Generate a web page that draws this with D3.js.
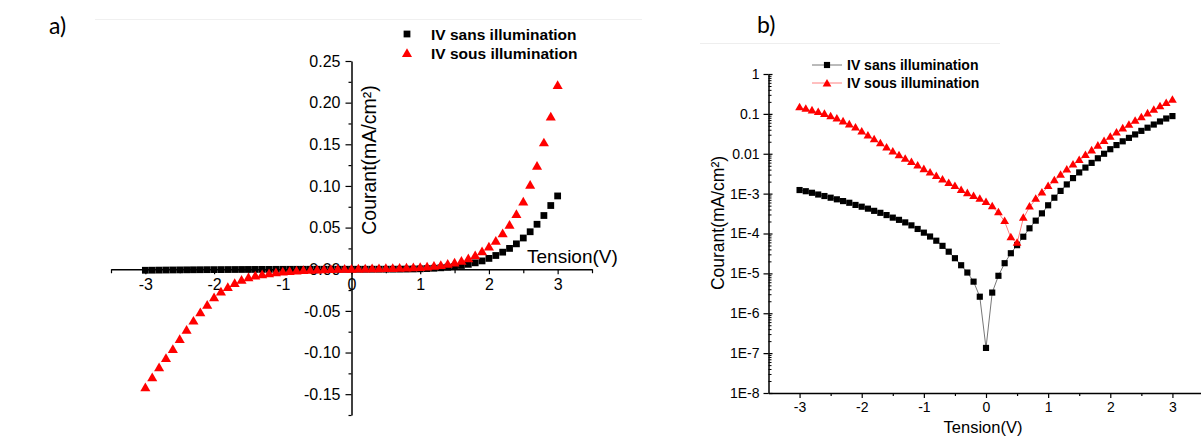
<!DOCTYPE html>
<html><head><meta charset="utf-8">
<script src="https://cdn.jsdelivr.net/npm/d3@7"></script>
<style>
html,body{margin:0;padding:0;background:#fff;}
svg{display:block;font-family:"Liberation Sans",Arial,Helvetica,sans-serif;}
</style>
</head><body>
<svg id="chart" width="1201" height="439"></svg>
<script>
// ---------- DATA ----------
const voltage = [-3.0,-2.9,-2.8,-2.7,-2.6,-2.5,-2.4,-2.3,-2.2,-2.1,-2.0,-1.9,-1.8,-1.7,-1.6,-1.5,-1.4,-1.3,-1.2,-1.1,
  -1.0,-0.9,-0.8,-0.7,-0.6,-0.5,-0.4,-0.3,-0.2,-0.1,0.0,0.1,0.2,0.3,0.4,0.5,0.6,0.7,0.8,0.9,
  1.0,1.1,1.2,1.3,1.4,1.5,1.6,1.7,1.8,1.9,2.0,2.1,2.2,2.3,2.4,2.5,2.6,2.7,2.8,2.9,3.0];

// IV sans illumination (mA/cm²)
const darkCurrent = [-1.23e-3,-1.15e-3,-1.05e-3,-9.5e-4,-8.7e-4,-7.9e-4,-7.2e-4,-6.5e-4,-5.9e-4,-5.2e-4,
  -4.7e-4,-4.2e-4,-3.7e-4,-3.3e-4,-2.9e-4,-2.5e-4,-2.2e-4,-1.9e-4,-1.6e-4,-1.3e-4,
  -1.05e-4,-8.4e-5,-6.6e-5,-4.9e-5,-3.5e-5,-2.4e-5,-1.6e-5,-1.05e-5,-6.2e-6,-2.6e-6,
  1.35e-7,3.3e-6,8.7e-6,1.8e-5,3.2e-5,5.1e-5,8.3e-5,1.35e-4,2.1e-4,3.2e-4,
  5.1e-4,7.9e-4,1.17e-3,1.7e-3,2.45e-3,3.4e-3,4.5e-3,5.9e-3,7.7e-3,1.0e-2,
  1.3e-2,1.65e-2,2.05e-2,2.5e-2,3.05e-2,3.75e-2,4.5e-2,5.4e-2,6.45e-2,7.65e-2,8.8e-2];

// IV sous illumination (mA/cm²)
const lightCurrent = [-0.143,-0.131,-0.119,-0.108,-0.097,-0.085,-0.074,-0.063,-0.053,-0.044,
  -0.035,-0.028,-0.0225,-0.0178,-0.014,-0.011,-0.0089,-0.0073,-0.0060,-0.0049,
  -0.0040,-0.0033,-0.0027,-0.0022,-0.0018,-0.0015,-0.0012,-0.0010,-0.00085,-0.00072,
  -0.00060,-0.00047,-0.00033,-0.00020,-0.000078,0.000057,0.00024,0.00046,0.00072,0.00104,
  0.0015,0.0021,0.0029,0.0039,0.0052,0.0068,0.0090,0.0118,0.0155,0.0203,
  0.026,0.033,0.042,0.052,0.065,0.080,0.100,0.123,0.151,0.182,0.220];

const seriesNames = ["IV sans illumination", "IV sous illumination"];
const panelLabels = ["a)", "b)"];
const xTitle = "Tension(V)";
const yTitle = "Courant(mA/cm²)";
const xTickValues = [-3,-2,-1,0,1,2,3];
const xMinorValues = [-3.5,-2.5,-1.5,-0.5,0.5,1.5,2.5,3.5];
const linTickValues = [-0.15,-0.10,-0.05,0.00,0.05,0.10,0.15,0.20,0.25];
const linTickLabels = ["-0.15","-0.10","-0.05","0.00","0.05","0.10","0.15","0.20","0.25"];
const linMinorValues = [-0.175,-0.125,-0.075,-0.025,0.025,0.075,0.125,0.175,0.225];
const logTickValues = [1,0.1,0.01,1e-3,1e-4,1e-5,1e-6,1e-7,1e-8];
const logTickLabels = ["1","0.1","0.01","1E-3","1E-4","1E-5","1E-6","1E-7","1E-8"];

// ---------- DRAW ----------
const svg = d3.select("#chart");
const BLACK = "#000", RED = "#ff0000";
const pts = voltage.map((v,i)=>({v, d: darkCurrent[i], l: lightCurrent[i]}));

// faint page decorations
svg.append("line").attr("x1",95).attr("x2",642).attr("y1",19.5).attr("y2",19.5).attr("stroke","#f0f0f0");
svg.append("line").attr("x1",700).attr("x2",1000).attr("y1",43.5).attr("y2",43.5).attr("stroke","#eeeeee");

// panel labels
svg.append("text").attr("x",49).attr("y",34).text(panelLabels[0])
  .style("font-family","Lato, 'Open Sans', sans-serif").style("font-size","23px").attr("fill","#000");
svg.append("text").attr("x",757).attr("y",33).text(panelLabels[1])
  .style("font-family","Lato, 'Open Sans', sans-serif").style("font-size","23px").attr("fill","#000");

function styleAxis(g, fs){
  g.select(".domain").attr("stroke","#000").attr("stroke-width",1.5);
  g.selectAll(".tick line").attr("stroke","#000").attr("stroke-width",1.2);
  g.selectAll(".tick text").attr("fill","#000").style("font-size",fs).style("font-family","'Liberation Sans',Arial,sans-serif");
}

// ===== Panel a (linear) =====
const xL = d3.scaleLinear([-3.5,3.5],[111,592]);
const yL = d3.scaleLinear([-0.175,0.25],[415,61]);
const gA = svg.append("g");

const xAxA = gA.append("g").attr("transform",`translate(0,${yL(0)})`)
  .call(d3.axisBottom(xL).tickValues(xTickValues).tickFormat(d=>d).tickSize(5).tickSizeOuter(0).tickPadding(4));
styleAxis(xAxA,"16px");
const xMinA = gA.append("g").attr("transform",`translate(0,${yL(0)})`)
  .call(d3.axisBottom(xL).tickValues(xMinorValues).tickFormat("").tickSize(4).tickSizeOuter(0));
xMinA.select(".domain").remove();
xMinA.selectAll(".tick line").attr("stroke","#000").attr("stroke-width",1.2);

const yAxA = gA.append("g").attr("transform",`translate(${xL(0)},0)`)
  .call(d3.axisLeft(yL).tickValues(linTickValues).tickFormat((d,i)=>linTickLabels[i]).tickSize(6).tickSizeOuter(0).tickPadding(5));
styleAxis(yAxA,"16px");
const yMinA = gA.append("g").attr("transform",`translate(${xL(0)},0)`)
  .call(d3.axisLeft(yL).tickValues(linMinorValues).tickFormat("").tickSize(3).tickSizeOuter(0));
yMinA.select(".domain").remove();
yMinA.selectAll(".tick line").attr("stroke","#000").attr("stroke-width",1.2);

// titles
gA.append("text").attr("x",527).attr("y",263).text(xTitle).attr("fill","#000").style("font-size","19px");
gA.append("text").attr("transform",`translate(376,160) rotate(-90)`).attr("text-anchor","middle")
  .text(yTitle).attr("fill","#000").style("font-size","19.5px");

// markers
const sqA = d3.symbol(d3.symbolSquare, 46);
const trA = d3.symbol(d3.symbolTriangle, 44);
gA.append("g").selectAll("path").data(pts).join("path")
  .attr("d",sqA).attr("transform",d=>`translate(${xL(d.v)},${yL(d.d)})`).attr("fill",BLACK);
gA.append("g").selectAll("path").data(pts).join("path")
  .attr("d",trA).attr("transform",d=>`translate(${xL(d.v)},${yL(d.l)})`).attr("fill",RED);

// legend a
const legA = gA.append("g");
legA.append("path").attr("d",sqA).attr("transform","translate(407,34)").attr("fill",BLACK);
legA.append("path").attr("d",trA).attr("transform","translate(407,54)").attr("fill",RED);
legA.append("text").attr("x",431).attr("y",39.5).text(seriesNames[0]).attr("fill","#000")
  .style("font-size","15.5px").style("font-weight","bold");
legA.append("text").attr("x",431).attr("y",58.5).text(seriesNames[1]).attr("fill","#000")
  .style("font-size","15.5px").style("font-weight","bold");

// ===== Panel b (log) =====
const xR = d3.scaleLinear([-3.5,3.5],[768.5,1203.5]);
const yR = d3.scaleLog([1e-8,1],[393,74]);
const gB = svg.append("g");

const xAxB = gB.append("g").attr("transform",`translate(0,${yR(1e-8)})`)
  .call(d3.axisBottom(xR).tickValues(xTickValues).tickFormat(d=>d).tickSize(5).tickSizeOuter(0).tickPadding(4));
styleAxis(xAxB,"14px");
const xMinB = gB.append("g").attr("transform",`translate(0,${yR(1e-8)})`)
  .call(d3.axisBottom(xR).tickValues(xMinorValues.slice(1)).tickFormat("").tickSize(3).tickSizeOuter(0));
xMinB.select(".domain").remove();
xMinB.selectAll(".tick line").attr("stroke","#000").attr("stroke-width",1.2);

const yAxB = gB.append("g").attr("transform",`translate(${xR(-3.5)},0)`)
  .call(d3.axisLeft(yR).tickValues(logTickValues).tickFormat((d,i)=>logTickLabels[i]).tickSize(5).tickSizeOuter(0).tickPadding(4));
styleAxis(yAxB,"14px");
const logMinor = [];
logTickValues.slice(1).forEach(base=>{ [2,3,4,5,6,7,8,9].forEach(k=>logMinor.push(base*k)); });
const yMinB = gB.append("g").attr("transform",`translate(${xR(-3.5)},0)`)
  .call(d3.axisRight(yR).tickValues(logMinor).tickFormat("").tickSize(3).tickSizeOuter(0));
yMinB.select(".domain").remove();
yMinB.selectAll(".tick line").attr("stroke","#000").attr("stroke-width",1);
const yInB = gB.append("g").attr("transform",`translate(${xR(-3.5)},0)`)
  .call(d3.axisRight(yR).tickValues(logTickValues).tickFormat("").tickSize(4).tickSizeOuter(0));
yInB.select(".domain").remove();
yInB.selectAll(".tick line").attr("stroke","#000").attr("stroke-width",1.2);

gB.append("text").attr("x",983).attr("y",433).attr("text-anchor","middle").text(xTitle)
  .attr("fill","#000").style("font-size","16.5px");
gB.append("text").attr("transform",`translate(724,223) rotate(-90)`).attr("text-anchor","middle")
  .text(yTitle).attr("fill","#000").style("font-size","17.5px");

const lineDark = d3.line().x(d=>xR(d.v)).y(d=>yR(Math.abs(d.d)));
const lineLight = d3.line().x(d=>xR(d.v)).y(d=>yR(Math.abs(d.l)));
gB.append("path").datum(pts).attr("d",lineDark).attr("fill","none").attr("stroke","#777").attr("stroke-width",1);
gB.append("path").datum(pts).attr("d",lineLight).attr("fill","none").attr("stroke","#ff8080").attr("stroke-width",1);

const sqB = d3.symbol(d3.symbolSquare, 38);
const trB = d3.symbol(d3.symbolTriangle, 33);
gB.append("g").selectAll("path").data(pts).join("path")
  .attr("d",sqB).attr("transform",d=>`translate(${xR(d.v)},${yR(Math.abs(d.d))})`).attr("fill",BLACK);
gB.append("g").selectAll("path").data(pts).join("path")
  .attr("d",trB).attr("transform",d=>`translate(${xR(d.v)},${yR(Math.abs(d.l))})`).attr("fill",RED);

// legend b
const legB = gB.append("g");
legB.append("line").attr("x1",812).attr("x2",842).attr("y1",65).attr("y2",65).attr("stroke","#777").attr("stroke-width",1);
legB.append("path").attr("d",sqB).attr("transform","translate(827,65)").attr("fill",BLACK);
legB.append("line").attr("x1",812).attr("x2",842).attr("y1",83).attr("y2",83).attr("stroke","#ff8080").attr("stroke-width",1);
legB.append("path").attr("d",trB).attr("transform","translate(827,84)").attr("fill",RED);
legB.append("text").attr("x",847).attr("y",70).text(seriesNames[0]).attr("fill","#000")
  .style("font-size","14px").style("font-weight","bold");
legB.append("text").attr("x",847).attr("y",88).text(seriesNames[1]).attr("fill","#000")
  .style("font-size","14px").style("font-weight","bold");
</script>
</body></html>
